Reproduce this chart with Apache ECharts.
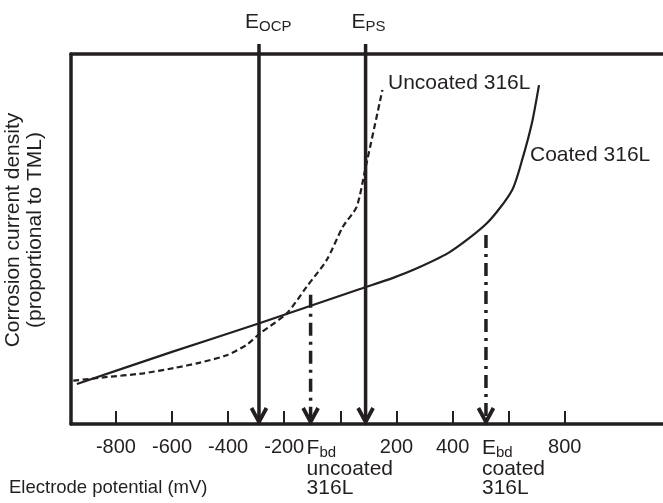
<!DOCTYPE html>
<html><head><meta charset="utf-8">
<script src="https://cdn.jsdelivr.net/npm/echarts@6/dist/echarts.min.js"></script>
<style>html,body{margin:0;padding:0;background:#fff}#c{width:663px;height:503px}</style>
</head><body><div id="c"></div>
<script>
// ---- data (mV on x, relative current density on y) ----
const uncoatedX = [-952, -845, -702, -595, -500, -405, -334, -286, -191, -120, -49, 9, 58, 88, 150];
const uncoatedY = [11.7, 12.6, 13.7, 15.1, 16.6, 18.6, 21.4, 24.5, 29.9, 37.1, 44.3, 53.3, 58.7, 68.6, 90.3];
const coatedX = [-939, -600, -286, 70, 188, 277, 391, 523, 612, 651, 683, 708];
const coatedY = [10.8, 19.5, 27.3, 36.5, 39.5, 42.2, 46.5, 54.3, 63.2, 72.2, 81.4, 91.6];
const tickValues = [-800, -600, -400, -200, 0, 200, 400, 600, 800];
const tickLabels = [-800, -600, -400, -200, 200, 400, 800];
const potentialNames = ['OCP', 'PS'];
const potentialX = [-290, 90];
const potentialTop = [102.7, 102.7];
const breakdownMain = ['F', 'E'];
const breakdownLines = ['uncoated', 'coated'];
const breakdownX = [-106, 519];
const breakdownTop = [34.9, 51.1];
const seriesNames = ['Uncoated 316L', 'Coated 316L'];
const xTitle = 'Electrode potential (mV)';
const yTitle = 'Corrosion current density\n(proportional to TML)';

const INK = '#231f20';
const FONT = "'Liberation Sans', Arial, Helvetica, sans-serif";
const FS = 20;

function arrowShapes(p1, p2, dash) {
  return [
    {type: 'line', shape: {x1: p1[0], y1: p1[1], x2: p2[0], y2: p2[1] - 3},
     style: {stroke: INK, lineWidth: 3.5, lineDash: dash}},
    {type: 'polyline', shape: {points: [[p2[0] - 7.5, p2[1] - 16], [p2[0], p2[1] - 2], [p2[0] + 7.5, p2[1] - 16]]},
     style: {stroke: INK, lineWidth: 3.8, fill: null, lineJoin: 'miter'}}
  ];
}
const richSub = {
  m: {fontSize: 21, lineHeight: 24, fontFamily: FONT, fill: INK},
  s: {fontSize: 15, lineHeight: 12, verticalAlign: 'bottom', fontFamily: FONT, fill: INK},
  n: {fontSize: 21, lineHeight: 19, fontFamily: FONT, fill: INK}
};

const chart = echarts.init(document.getElementById('c'), null, {renderer: 'canvas'});
chart.setOption({
  animation: false,
  backgroundColor: '#fff',
  grid: {left: 71, right: 0, top: 54, bottom: 79},
  xAxis: [{
    type: 'value', min: -960, max: 1150,
    axisLine: {show: true, onZero: false, lineStyle: {color: INK, width: 3.5}},
    axisTick: {show: true, inside: true, length: 13, customValues: tickValues, lineStyle: {color: INK, width: 2}},
    axisLabel: {show: true, customValues: tickLabels, margin: 13, fontSize: FS, fontFamily: FONT, color: INK, lineHeight: 20},
    splitLine: {show: false}
  }, {
    type: 'value', min: -960, max: 1150, position: 'top',
    axisLine: {show: true, onZero: false, lineStyle: {color: INK, width: 3.5}},
    axisTick: {show: false}, axisLabel: {show: false}, splitLine: {show: false}
  }],
  yAxis: {
    type: 'value', min: 0, max: 100,
    axisLine: {show: true, onZero: false, lineStyle: {color: INK, width: 3.5}},
    axisTick: {show: false}, axisLabel: {show: false}, splitLine: {show: false}
  },
  series: [{
    name: seriesNames[0], type: 'line', symbol: 'none', smooth: 0.25,
    data: uncoatedX.map((x, i) => [x, uncoatedY[i]]),
    lineStyle: {color: INK, width: 2.2, type: [6, 3.5]}
  }, {
    name: seriesNames[1], type: 'line', symbol: 'none', smooth: 0.25,
    data: coatedX.map((x, i) => [x, coatedY[i]]),
    lineStyle: {color: INK, width: 2.2}
  }, {
    type: 'custom', clip: false,
    data: potentialX.map((x, i) => [x, potentialTop[i], 0, i]),
    renderItem: function (params, api) {
      const i = api.value(3);
      const p1 = api.coord([api.value(0), api.value(1)]);
      const p2 = api.coord([api.value(0), api.value(2)]);
      const children = arrowShapes(p1, p2, null);
      children.push({type: 'text', x: p1[0] - 14, y: p1[1] - 10,
        style: {text: '{m|E}{s|' + potentialNames[i] + '}', rich: richSub, verticalAlign: 'bottom', align: 'left', fill: INK}});
      return {type: 'group', children: children};
    }
  }, {
    type: 'custom', clip: false,
    data: breakdownX.map((x, i) => [x, breakdownTop[i], 0, i]),
    renderItem: function (params, api) {
      const i = api.value(3);
      const p1 = api.coord([api.value(0), api.value(1)]);
      const p2 = api.coord([api.value(0), api.value(2)]);
      const children = arrowShapes(p1, p2, [13, 6, 3, 6]);
      children.push({type: 'text', x: p2[0] - 4, y: p2[1] + 12,
        style: {text: '{m|' + breakdownMain[i] + '}{s|bd}\n{n|' + breakdownLines[i] + '}\n{n|316L}', rich: richSub,
          verticalAlign: 'top', align: 'left', fill: INK}});
      return {type: 'group', children: children};
    }
  }],
  graphic: [
    {type: 'text', x: 24, y: 230, rotation: Math.PI / 2,
     style: {text: yTitle, align: 'center', verticalAlign: 'middle', fontSize: 21, lineHeight: 22, fontFamily: FONT, fill: INK}},
    {type: 'text', x: 9, y: 488,
     style: {text: xTitle, align: 'left', verticalAlign: 'middle', fontSize: 18.5, fontFamily: FONT, fill: INK}},
    {type: 'text', x: 388, y: 83,
     style: {text: seriesNames[0], align: 'left', verticalAlign: 'middle', fontSize: 21, fontFamily: FONT, fill: INK}},
    {type: 'text', x: 530, y: 155,
     style: {text: seriesNames[1], align: 'left', verticalAlign: 'middle', fontSize: 21, fontFamily: FONT, fill: INK}}
  ]
});
</script>
</body></html>
